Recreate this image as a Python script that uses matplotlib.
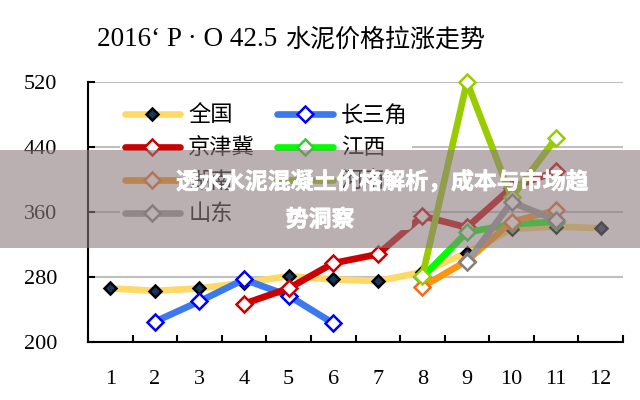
import matplotlib.pyplot as plt
from matplotlib.patches import Rectangle
import matplotlib.patheffects as pe
import numpy as np

plt.switch_backend('Agg')

# months on the x axis
months = list(range(1, 13))
nan = np.nan

# prices (yuan/t), nan where a region has no value
quanguo = [266, 263, 266, 273, 281, 277, 275, 286, 310, 339, 342, 340]
changsanjiao = [nan, 225, 250, 277, 257, 223, nan, nan, nan, nan, nan, nan]
jingjinji = [nan, nan, nan, 247, 266, 297, 308, 355, 341, 390, 410, nan]
jiangxi = [nan, nan, nan, nan, nan, nan, nan, 280, 335, 345, 348, nan]
hunan = [nan, nan, nan, nan, nan, nan, nan, 268, 300, 348, 362, nan]
henan = [nan, nan, nan, nan, nan, nan, nan, 281, 520, 378, 451, nan]
shandong = [nan, nan, nan, nan, nan, nan, nan, nan, 298, 372, 350, nan]

y_ticks = [200, 280, 360, 440, 520]

title_latin = '2016‘ P · O 42.5'
title_cjk = '水泥价格拉涨走势'
banner_line1 = '透水水泥混凝土价格解析，成本与市场趋'
banner_line2 = '势洞察'

serif = ['Liberation Serif', 'Noto Sans CJK SC']
cjk = ['Noto Sans CJK SC', 'DejaVu Sans']

fig = plt.figure(figsize=(6.4, 4.0), dpi=100)
ax = fig.add_axes([88 / 640, 58 / 400, 535 / 640, 260 / 400])

# (label, values, line colour, marker face, marker edge)
series = [
    ('全国', quanguo, '#FFD966', '#17375E', '#000000'),
    ('长三角', changsanjiao, '#3C78EE', 'white', '#0000FF'),
    ('京津冀', jingjinji, '#CC0000', 'white', '#CC0000'),
    ('江西', jiangxi, '#00FF00', 'white', '#33CC33'),
    ('湖南', hunan, '#FF9410', 'white', '#F26A1B'),
    ('河南', henan, '#99CC00', 'white', '#99CC00'),
    ('山东', shandong, '#999999', 'white', '#808080'),
]

handles = {}
for label, vals, lc, mf, me in series:
    ms = 6.5 if label == '全国' else 8
    h, = ax.plot(months, vals, color=lc, linewidth=4.8, marker='D',
                 markersize=ms, markerfacecolor=mf, markeredgecolor=me,
                 markeredgewidth=1.8, solid_capstyle='round',
                 solid_joinstyle='round', clip_on=False, label=label)
    handles[label] = h

ax.set_xlim(0.5, 12.5)
ax.set_ylim(200, 520)
ax.set_yticks(y_ticks)
ax.set_xticks(months)
ax.set_xticks(np.arange(0.5, 13, 1), minor=True)
ax.tick_params(axis='x', which='major', length=0, pad=20, labelsize=16)
ax.tick_params(axis='x', which='minor', direction='in', length=5, width=1.5)
ax.tick_params(axis='y', direction='in', length=5, width=1.5, pad=22,
               labelsize=16)
for lab in ax.get_xticklabels() + ax.get_yticklabels():
    lab.set_fontfamily('Liberation Serif')

ax.grid(axis='y', color='#BFBFBF', linewidth=1.5)
ax.set_axisbelow(True)
for s in ['top', 'right']:
    ax.spines[s].set_visible(False)
for s in ['left', 'bottom']:
    ax.spines[s].set_linewidth(1.5)
    ax.spines[s].set_color('black')

order = ['全国', '京津冀', '湖南', '山东', '长三角', '江西', '河南']
leg = ax.legend([handles[k] for k in order], order, loc='upper left',
                bbox_to_anchor=(0.06, 0.935), ncol=2, frameon=True,
                prop={'family': cjk, 'size': 16}, handlelength=2.5,
                labelspacing=0.45, columnspacing=1.0, handletextpad=0.36,
                borderpad=0.2, borderaxespad=0)
leg.get_frame().set_edgecolor('none')
leg.get_frame().set_facecolor('white')
leg.get_frame().set_alpha(1)

fig.text(97 / 640, 1 - 40 / 400, title_latin, family=serif, fontsize=19.5,
         ha='left', va='center')
fig.text(285 / 640, 1 - 40 / 400, title_cjk, family=cjk, fontsize=18,
         ha='left', va='center')

# semi-transparent banner over the chart
fig.add_artist(Rectangle((0, 152 / 400), 1, 98 / 400, transform=fig.transFigure,
                         facecolor='#8C7C80', alpha=0.6, edgecolor='none',
                         zorder=10))
thick = [pe.withStroke(linewidth=0.5, foreground='white')]
fig.text(176 / 640, 1 - 182 / 400, banner_line1, family=cjk, fontsize=16.5,
         fontweight='bold', color='white', ha='left', va='center', zorder=11,
         path_effects=thick)
fig.text(320 / 640, 1 - 220 / 400, banner_line2, family=cjk, fontsize=16.5,
         fontweight='bold', color='white', ha='center', va='center', zorder=11,
         path_effects=thick)

fig.savefig('out.png', dpi=100)
plt.close(fig)
